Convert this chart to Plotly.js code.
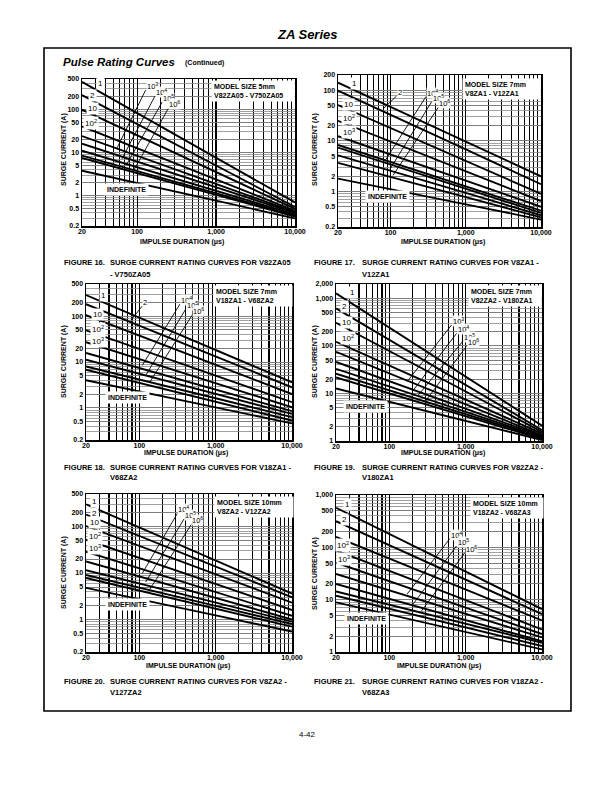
<!DOCTYPE html>
<html><head><meta charset="utf-8">
<script src="https://cdn.plot.ly/plotly-3.0.1.min.js"></script>
<style>html,body{margin:0;padding:0;background:#fff}#chart{width:614px;height:792px}</style>
</head><body><div id="chart"></div>
<script>
// ---------- DATA ----------
const duration = [20, 100, 1000, 10000];
const xTickVals = [20, 100, 1000, 10000];
const xTickText = ['20', '100', '1,000', '10,000'];

// Figure 16 (5mm V82ZA05 - V750ZA05)
const fig16Current = [
  [430, 81, 7.6, 0.7], [212, 45, 5.0, 0.55], [98, 25, 3.5, 0.5], [40, 12.5, 2.4, 0.45],
  [24, 8.4, 1.9, 0.42], [16, 6.2, 1.6, 0.4], [11, 4.6, 1.3, 0.37], [8.5, 3.7, 1.14, 0.35],
  [7.5, 3.3, 1.05, 0.33], [3.8, 2.0, 0.77, 0.3]
];
const fig16YTicks = [0.2, 0.5, 1, 2, 5, 10, 20, 50, 100, 200, 500];
const fig16YText = ['0.2', '0.5', '1', '2', '5', '10', '20', '50', '100', '200', '500'];
const fig16Labels = ['1', '2', '10', '10<sup>2</sup>'];
const fig16LabelPos = [[34, 396], [27, 212], [27, 104], [26, 48]];
const fig16LeaderText = ['10<sup>3</sup>', '10<sup>4</sup>', '10<sup>5</sup>', '10<sup>6</sup>'];
const fig16LeaderTop = [[128, 277], [168, 201], [208, 148], [248, 104]];
const fig16LeaderEnd = [[55, 12.2], [64, 7.1], [74, 5.4], [90, 3.8]];
const fig16Indef = [74, 1.43];

// Figure 17 (7mm V8ZA1 - V12ZA1)
const fig17Current = [
  [141, 47, 9.7, 2.0], [98, 33, 6.8, 1.4], [51, 18, 4.0, 0.9], [25, 9.7, 2.5, 0.65],
  [12.4, 5.4, 1.64, 0.5], [8.3, 3.8, 1.27, 0.42], [7.4, 3.4, 1.14, 0.38], [5.2, 2.6, 0.94, 0.34],
  [3.7, 1.95, 0.78, 0.31], [1.8, 1.1, 0.56, 0.28]
];
const fig17YTicks = [0.2, 0.5, 1, 2, 5, 10, 20, 50, 100, 200];
const fig17YText = ['0.2', '0.5', '1', '2', '5', '10', '20', '50', '100', '200'];
const fig17Labels = ['1', '10', '10<sup>2</sup>', '10<sup>3</sup>'];
const fig17LabelPos = [[33, 137], [28, 53.5], [28, 27.8], [28, 15.1]];
const fig17LeaderText = ['2', '10<sup>4</sup>', '10<sup>5</sup>', '10<sup>6</sup>'];
const fig17LeaderTop = [[120, 77], [295, 74.6], [352, 59.4], [431, 45.9]];
const fig17LeaderEnd = [[81, 44], [86.5, 4.3], [97.7, 2.73], [108, 2.1]];
const fig17Indef = [90, 0.81];

// Figure 18 (7mm V18ZA1 - V68ZA2)
const fig18Current = [
  [287, 92, 18.3, 3.6], [182, 62, 13.2, 2.8], [105, 37.7, 8.7, 2.0], [49, 19.2, 5.1, 1.33],
  [27, 11.6, 3.46, 1.03], [15.7, 7.4, 2.5, 0.85], [11.2, 5.5, 2.0, 0.74], [8, 4.1, 1.62, 0.63],
  [6.8, 3.5, 1.36, 0.53], [4, 2.3, 1.03, 0.46]
];
const fig18YTicks = fig16YTicks;
const fig18YText = fig16YText;
const fig18Labels = ['1', '10', '10<sup>2</sup>', '10<sup>3</sup>'];
const fig18LabelPos = [[33.7, 287], [28.4, 110], [28.4, 53.6], [28.4, 28.3]];
const fig18LeaderText = ['2', '10<sup>4</sup>', '10<sup>5</sup>', '10<sup>6</sup>'];
const fig18LeaderTop = [[109, 165], [340, 182], [403, 140], [492, 105]];
const fig18LeaderEnd = [[77.6, 81.5], [109, 8.4], [121, 5.1], [137, 3.65]];
const fig18Indef = [70, 1.66];

// Figure 19 (7mm V82ZA2 - V180ZA1)
const fig19Current = [
  [1270, 242, 22.6, 2.1], [614, 133, 15.1, 1.7], [306, 78, 11, 1.55], [122, 38.5, 7.4, 1.43],
  [75, 26.4, 5.9, 1.32], [46, 18.1, 4.8, 1.26], [33, 14, 4.1, 1.2], [26, 11.6, 3.66, 1.15],
  [21.6, 10, 3.3, 1.1], [12.7, 6.7, 2.65, 1.05]
];
const fig19YTicks = [1, 2, 5, 10, 20, 50, 100, 200, 500, 1000, 2000];
const fig19YText = ['1', '2', '5', '10', '20', '50', '100', '200', '500', '1,000', '2,000'];
const fig19Labels = ['1', '2', '10', '10<sup>2</sup>'];
const fig19LabelPos = [[33, 1313], [25.5, 665], [27.6, 306], [29, 150]];
const fig19LeaderText = ['10<sup>3</sup>', '10<sup>4</sup>', '10<sup>5</sup>', '10<sup>6</sup>'];
const fig19LeaderTop = [[652, 274], [759, 183], [927, 128], [1026, 98.9]];
const fig19LeaderEnd = [[177, 19], [206, 11.7], [239, 9.2], [292, 6.6]];
const fig19Indef = [49, 5.2];

// Figure 20 (10mm V8ZA2 - V12ZA2)
const fig20Current = [
  [300, 95, 18.6, 3.6], [181, 63, 13.7, 3.0], [102, 38, 9.4, 2.3], [52, 21, 5.8, 1.6],
  [28.6, 12.6, 3.9, 1.2], [17.7, 8.4, 2.9, 1.0], [11.5, 5.9, 2.3, 0.9], [9.1, 4.8, 1.97, 0.8],
  [7.8, 4.2, 1.71, 0.7], [4.8, 2.7, 1.23, 0.55]
];
const fig20YTicks = fig16YTicks;
const fig20YText = fig16YText;
const fig20Labels = ['1', '2', '10', '10<sup>2</sup>', '10<sup>3</sup>'];
const fig20LabelPos = [[25.7, 341], [25.7, 193], [25.7, 119], [26.2, 63], [26.2, 34]];
const fig20LeaderText = ['10<sup>4</sup>', '10<sup>5</sup>', '10<sup>6</sup>'];
const fig20LeaderTop = [[316, 193], [387, 147], [482, 112]];
const fig20LeaderEnd = [[109, 9.8], [121, 6.4], [137, 4.45]];
const fig20Indef = [70, 2.1];

// Figure 21 (10mm V18ZA2 - V68ZA3)
const fig21Current = [
  [570, 180, 34.5, 6.6], [316, 110, 24, 5.3], [158, 61, 15.6, 4.0], [87, 35, 9.8, 2.7],
  [51, 22.6, 7.1, 2.2], [31, 15, 5.4, 1.9], [20, 10.4, 4.1, 1.6], [14.3, 8.0, 3.5, 1.5],
  [11.9, 6.7, 2.96, 1.3], [8.9, 5.2, 2.4, 1.12]
];
const fig21YTicks = [1, 2, 5, 10, 20, 50, 100, 200, 500, 1000];
const fig21YText = ['1', '2', '5', '10', '20', '50', '100', '200', '500', '1,000'];
const fig21Labels = ['1', '2', '10<sup>2</sup>', '10<sup>3</sup>'];
const fig21LabelPos = [[28, 662], [25.5, 345], [24.4, 109], [25.5, 58.7]];
const fig21LeaderText = ['10<sup>4</sup>', '10<sup>5</sup>', '10<sup>6</sup>'];
const fig21LeaderTop = [[621, 147], [759, 106], [975, 78.8]];
const fig21LeaderEnd = [[171, 12.8], [206, 8.3], [264, 6.1]];
const fig21Indef = [50, 4.4];

const modelText = ['MODEL SIZE 5mm<br>V82ZA05 - V750ZA05', 'MODEL SIZE 7mm<br>V8ZA1 - V12ZA1',
  'MODEL SIZE 7mm<br>V18ZA1 - V68ZA2', 'MODEL SIZE 7mm<br>V82ZA2 - V180ZA1',
  'MODEL SIZE 10mm<br>V8ZA2 - V12ZA2', 'MODEL SIZE 10mm<br>V18ZA2 - V68ZA3'];
const captionNum = ['FIGURE 16.', 'FIGURE 17.', 'FIGURE 18.', 'FIGURE 19.', 'FIGURE 20.', 'FIGURE 21.'];
const captionLine1 = ['SURGE CURRENT RATING CURVES FOR V82ZA05', 'SURGE CURRENT RATING CURVES FOR V8ZA1 -',
  'SURGE CURRENT RATING CURVES FOR V18ZA1 -', 'SURGE CURRENT RATING CURVES FOR V82ZA2 -',
  'SURGE CURRENT RATING CURVES FOR V8ZA2 -', 'SURGE CURRENT RATING CURVES FOR V18ZA2 -'];
const captionLine2 = ['- V750ZA05', 'V12ZA1', 'V68ZA2', 'V180ZA1', 'V127ZA2', 'V68ZA3'];

// ---------- LAYOUT ----------
const W = 614, H = 792;
const FONT = 'Liberation Sans, Arial, Helvetica, sans-serif';
const px = x => x / W, py = y => 1 - y / H;

const charts = [
  {cur: fig16Current, yt: fig16YTicks, ytt: fig16YText, yr: [0.2, 500], lab: fig16Labels, labPos: fig16LabelPos,
   ldT: fig16LeaderText, ldTop: fig16LeaderTop, ldEnd: fig16LeaderEnd, ind: fig16Indef,
   box: [82, 295, 79, 226], model: [0.607, 0.993, 0.385], ytitle: [64, 150], xtitle: [182, 242], cap: [62, 108, 262, 274]},
  {cur: fig17Current, yt: fig17YTicks, ytt: fig17YText, yr: [0.2, 200], lab: fig17Labels, labPos: fig17LabelPos,
   ldT: fig17LeaderText, ldTop: fig17LeaderTop, ldEnd: fig17LeaderEnd, ind: fig17Indef,
   box: [338, 541, 75, 227], model: [0.61, 0.978, 0.378], ytitle: [315, 150], xtitle: [443, 242], cap: [312, 360, 262, 274]},
  {cur: fig18Current, yt: fig18YTicks, ytt: fig18YText, yr: [0.2, 500], lab: fig18Labels, labPos: fig18LabelPos,
   ldT: fig18LeaderText, ldTop: fig18LeaderTop, ldEnd: fig18LeaderEnd, ind: fig18Indef,
   box: [86, 292, 284, 440], model: [0.617, 0.994, 0.38], ytitle: [64, 362], xtitle: [186, 453], cap: [62, 108, 467, 478]},
  {cur: fig19Current, yt: fig19YTicks, ytt: fig19YText, yr: [1, 2000], lab: fig19Labels, labPos: fig19LabelPos,
   ldT: fig19LeaderText, ldTop: fig19LeaderTop, ldEnd: fig19LeaderEnd, ind: fig19Indef,
   box: [336, 542, 284, 441], model: [0.641, 0.994, 0.351], ytitle: [315, 362], xtitle: [443, 453], cap: [312, 360, 467, 478]},
  {cur: fig20Current, yt: fig20YTicks, ytt: fig20YText, yr: [0.2, 500], lab: fig20Labels, labPos: fig20LabelPos,
   ldT: fig20LeaderText, ldTop: fig20LeaderTop, ldEnd: fig20LeaderEnd, ind: fig20Indef,
   box: [86, 292, 494, 652], model: [0.622, 0.986, 0.378], ytitle: [64, 573], xtitle: [188, 666], cap: [62, 108, 681, 692]},
  {cur: fig21Current, yt: fig21YTicks, ytt: fig21YText, yr: [1, 1000], lab: fig21Labels, labPos: fig21LabelPos,
   ldT: fig21LeaderText, ldTop: fig21LeaderTop, ldEnd: fig21LeaderEnd, ind: fig21Indef,
   box: [336, 542, 495, 652], model: [0.649, 0.989, 0.348], ytitle: [315, 574], xtitle: [439, 666], cap: [312, 360, 681, 692]}
];

function minorVals(lo, hi) {
  const out = [];
  for (let e = -2; e <= 5; e++) for (let k = 1; k <= 9; k++) {
    const v = k * Math.pow(10, e);
    if (v >= lo * 0.999 && v <= hi * 1.001) out.push(v);
  }
  return out;
}

const traces = [];
const annotations = [];
const layout = {
  width: W, height: H, margin: {l: 0, r: 0, t: 0, b: 0},
  paper_bgcolor: '#fff', plot_bgcolor: '#fff', showlegend: false, hovermode: false,
  font: {family: FONT, color: '#000'},
  shapes: [{type: 'rect', xref: 'paper', yref: 'paper', x0: px(44), x1: px(571), y0: py(48), y1: py(711),
            line: {color: '#000', width: 1.6}}]
};

charts.forEach((c, i) => {
  const n = i === 0 ? '' : String(i + 1);
  const xa = 'x' + n, ya = 'y' + n;
  const [x0, x1, y0, y1] = c.box;
  layout['xaxis' + n] = {
    type: 'log', domain: [px(x0), px(x1)], anchor: ya, range: [Math.log10(20), Math.log10(10000)],
    tickmode: 'array', tickvals: xTickVals, ticktext: xTickText, ticks: '', ticklabelstandoff: -2,
    tickfont: {size: 7, family: FONT, weight: 'bold'},
    showgrid: true, gridcolor: '#000', gridwidth: 1.2,
    minor: {tickmode: 'array', tickvals: minorVals(20, 10000), showgrid: true, gridcolor: '#000', gridwidth: 1.1, ticks: ''},
    showline: true, linecolor: '#000', linewidth: 1.5, mirror: true, zeroline: false, fixedrange: true
  };
  layout['yaxis' + n] = {
    type: 'log', domain: [py(y1), py(y0)], anchor: xa, range: [Math.log10(c.yr[0]), Math.log10(c.yr[1])],
    tickmode: 'array', tickvals: c.yt, ticktext: c.ytt, ticks: '',
    tickfont: {size: 7, family: FONT, weight: 'bold'},
    showgrid: true, gridcolor: '#7a7a7a', gridwidth: 0.9,
    minor: {tickmode: 'array', tickvals: minorVals(c.yr[0], c.yr[1]), showgrid: true, gridcolor: '#8a8a8a', gridwidth: 0.8, ticks: ''},
    showline: true, linecolor: '#000', linewidth: 1.5, mirror: true, zeroline: false, fixedrange: true
  };
  // curves
  c.cur.forEach(vals => {
    traces.push({x: duration, y: vals, xaxis: xa, yaxis: ya, type: 'scatter', mode: 'lines',
      line: {color: '#000', width: 1.9}, hoverinfo: 'skip'});
  });
  // leader lines
  c.ldTop.forEach((t, k) => {
    const e = c.ldEnd[k];
    traces.push({x: [t[0], e[0]], y: [t[1], e[1]], xaxis: xa, yaxis: ya, type: 'scatter', mode: 'lines',
      line: {color: '#000', width: 0.9}, hoverinfo: 'skip'});
    annotations.push({xref: xa, yref: ya, x: Math.log10(t[0]), y: Math.log10(t[1]), text: c.ldT[k],
      showarrow: false, xanchor: 'left', yanchor: 'bottom', xshift: 0, yshift: -2,
      font: {size: 7.5, family: FONT}, bgcolor: 'rgba(255,255,255,0.9)', borderpad: 0});
  });
  // curve labels
  c.lab.forEach((t, k) => {
    annotations.push({xref: xa, yref: ya, x: Math.log10(c.labPos[k][0]), y: Math.log10(c.labPos[k][1]), text: t,
      showarrow: false, xanchor: 'center', yanchor: 'middle', font: {size: 8, family: FONT},
      bgcolor: '#fff', borderpad: 1});
  });
  // indefinite
  annotations.push({xref: xa, yref: ya, x: Math.log10(c.ind[0]), y: Math.log10(c.ind[1]), text: 'INDEFINITE',
    showarrow: false, xanchor: 'center', yanchor: 'middle', font: {size: 7, family: FONT, weight: 'bold'},
    bgcolor: '#fff', borderpad: 2});
  // model box
  annotations.push({xref: xa + ' domain', yref: ya + ' domain', x: c.model[0], y: c.model[1], text: modelText[i],
    showarrow: false, xanchor: 'left', yanchor: 'top', align: 'left', width: Math.round(c.model[2] * (x1 - x0)) - 4,
    font: {size: 7, family: FONT, weight: 'bold'}, bgcolor: '#fff', borderpad: 2});
  // axis titles
  annotations.push({xref: 'paper', yref: 'paper', x: px(c.ytitle[0]), y: py(c.ytitle[1]), text: 'SURGE CURRENT (A)',
    showarrow: false, textangle: -90, xanchor: 'center', yanchor: 'middle', font: {size: 7, family: FONT, weight: 'bold'}});
  annotations.push({xref: 'paper', yref: 'paper', x: px(c.xtitle[0]), y: py(c.xtitle[1]), text: 'IMPULSE DURATION (μs)',
    showarrow: false, xanchor: 'center', yanchor: 'middle', font: {size: 7, family: FONT, weight: 'bold'}});
  // captions
  annotations.push({xref: 'paper', yref: 'paper', x: px(c.cap[0]), y: py(c.cap[2]), text: captionNum[i],
    showarrow: false, xanchor: 'left', yanchor: 'middle', font: {size: 7.5, family: FONT, weight: 'bold'}});
  annotations.push({xref: 'paper', yref: 'paper', x: px(c.cap[1]), y: py(c.cap[2]), text: captionLine1[i],
    showarrow: false, xanchor: 'left', yanchor: 'middle', font: {size: 7.5, family: FONT, weight: 'bold'}});
  annotations.push({xref: 'paper', yref: 'paper', x: px(c.cap[1]), y: py(c.cap[3]), text: captionLine2[i],
    showarrow: false, xanchor: 'left', yanchor: 'middle', font: {size: 7.5, family: FONT, weight: 'bold'}});
});

// page texts
annotations.push({xref: 'paper', yref: 'paper', x: px(307), y: py(34), text: '<b><i>ZA Series</i></b>',
  showarrow: false, xanchor: 'center', yanchor: 'middle', font: {size: 13, family: FONT}});
annotations.push({xref: 'paper', yref: 'paper', x: px(61), y: py(62), text: '<b><i>Pulse Rating Curves</i></b>',
  showarrow: false, xanchor: 'left', yanchor: 'middle', font: {size: 11.5, family: FONT}});
annotations.push({xref: 'paper', yref: 'paper', x: px(183), y: py(62.5), text: '<b>(Continued)</b>',
  showarrow: false, xanchor: 'left', yanchor: 'middle', font: {size: 7, family: FONT}});
annotations.push({xref: 'paper', yref: 'paper', x: px(307), y: py(734), text: '4-42',
  showarrow: false, xanchor: 'center', yanchor: 'middle', font: {size: 8, family: FONT}});

layout.annotations = annotations;
Plotly.newPlot('chart', traces, layout, {displayModeBar: false, staticPlot: true});
</script>
</body></html>
